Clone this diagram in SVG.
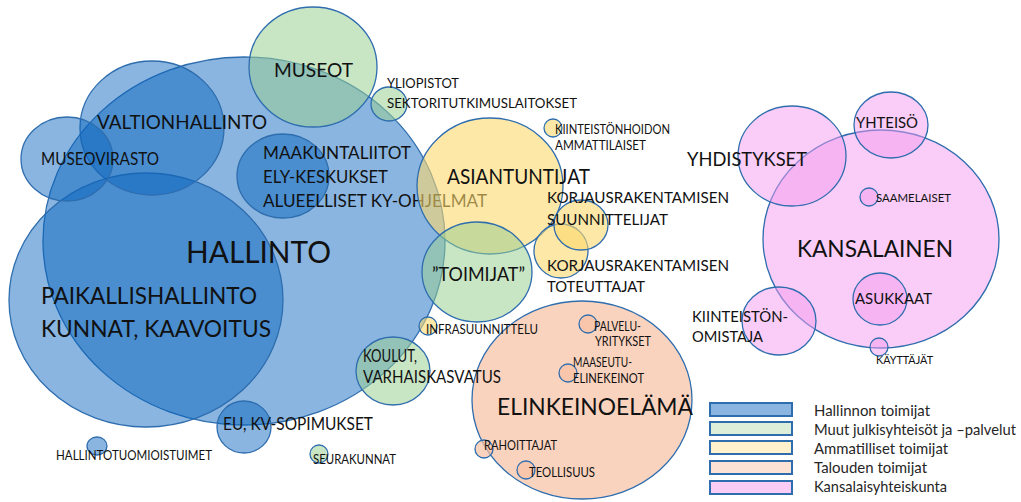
<svg xmlns="http://www.w3.org/2000/svg" width="1021" height="502" viewBox="0 0 1021 502">
<style>
text{font-family:Lato,"Open Sans","Liberation Sans",sans-serif;fill:#111;}
.b{fill:rgb(5,97,190);fill-opacity:0.47;stroke:#2E6DAE;stroke-width:1.3;}
.g{fill:rgb(153,207,146);fill-opacity:0.54;stroke:#2E6DAE;stroke-width:1.3;}
.y{fill:rgb(252,217,110);fill-opacity:0.6;stroke:#2E6DAE;stroke-width:1.3;}
.s{fill:rgb(248,192,162);fill-opacity:0.7;stroke:#2E6DAE;stroke-width:1.3;}
.p{fill:rgb(243,156,240);fill-opacity:0.5;stroke:#2E6DAE;stroke-width:1.3;}
.lg{stroke:#2E6DAE;stroke-width:2;}
.lt{fill:#262626;font-size:15px;}
</style>
<rect width="1021" height="502" fill="#fff"/>
<g id="connectors"></g>

<g id="node-elinkeinoelama">
<ellipse class="s" cx="582" cy="400" rx="110" ry="99"/>
<text x="497" y="415" font-size="24" textLength="196" lengthAdjust="spacingAndGlyphs">ELINKEINOELÄMÄ</text>
</g>

<g id="node-hallinto">
<ellipse class="b" cx="244" cy="241" rx="201" ry="184"/>
<g id="node-paikallishallinto">
<ellipse class="b" cx="146" cy="300" rx="137" ry="127"/>
<text x="41" y="304" font-size="24" textLength="216" lengthAdjust="spacingAndGlyphs">PAIKALLISHALLINTO</text>
<text x="41" y="337" font-size="24" textLength="230" lengthAdjust="spacingAndGlyphs">KUNNAT, KAAVOITUS</text>
</g>
<g id="node-valtionhallinto">
<ellipse class="b" cx="152" cy="128" rx="72" ry="67"/>
<g id="node-museovirasto">
<ellipse class="b" cx="67" cy="159" rx="46" ry="42"/>
<text x="41" y="165" font-size="16.5" textLength="118" lengthAdjust="spacingAndGlyphs">MUSEOVIRASTO</text>
</g>
<text x="97" y="129" font-size="20" textLength="170" lengthAdjust="spacingAndGlyphs">VALTIONHALLINTO</text>
</g>
<g id="node-maakuntaliitot">
<ellipse class="b" cx="283" cy="176" rx="46" ry="42"/>
<text x="263" y="159" font-size="18" textLength="148" lengthAdjust="spacingAndGlyphs">MAAKUNTALIITOT</text>
<text x="263" y="183" font-size="18" textLength="125" lengthAdjust="spacingAndGlyphs">ELY-KESKUKSET</text>
<text x="263" y="207" font-size="18" textLength="224" lengthAdjust="spacingAndGlyphs">ALUEELLISET KY-OHJELMAT</text>
</g>
<text x="186" y="263" font-size="31" textLength="145" lengthAdjust="spacingAndGlyphs">HALLINTO</text>
</g>

<g id="node-eu">
<ellipse class="b" cx="244" cy="427" rx="27" ry="26"/>
<text x="223" y="430" font-size="16.5" textLength="150" lengthAdjust="spacingAndGlyphs">EU, KV-SOPIMUKSET</text>
</g>
<g id="node-hallintotuomioistuimet">
<ellipse class="b" cx="97" cy="446" rx="10" ry="9"/>
<text x="56" y="460" font-size="13" textLength="156" lengthAdjust="spacingAndGlyphs">HALLINTOTUOMIOISTUIMET</text>
</g>

<g id="node-museot">
<ellipse class="g" cx="313" cy="67" rx="64" ry="60"/>
<text x="274" y="77" font-size="20" textLength="79" lengthAdjust="spacingAndGlyphs">MUSEOT</text>
</g>
<g id="node-yliopistot">
<ellipse class="g" cx="389" cy="104" rx="18" ry="17"/>
<text x="387" y="88" font-size="13.5" textLength="72" lengthAdjust="spacingAndGlyphs">YLIOPISTOT</text>
<text x="387" y="108" font-size="13.5" textLength="190" lengthAdjust="spacingAndGlyphs">SEKTORITUTKIMUSLAITOKSET</text>
</g>

<g id="node-asiantuntijat">
<ellipse class="y" cx="490" cy="186" rx="73" ry="68"/>
<text x="447" y="184" font-size="21" textLength="143" lengthAdjust="spacingAndGlyphs">ASIANTUNTIJAT</text>
</g>
<g id="node-kiinteistonhoidon">
<ellipse class="y" cx="553" cy="128" rx="9" ry="9"/>
<text x="555" y="134" font-size="12.5" textLength="115" lengthAdjust="spacingAndGlyphs">KIINTEISTÖNHOIDON</text>
<text x="555" y="150" font-size="12.5" textLength="91" lengthAdjust="spacingAndGlyphs">AMMATTILAISET</text>
</g>
<g id="node-korjaus-toteuttajat">
<ellipse class="y" cx="561" cy="251" rx="27" ry="27"/>
<text x="547" y="271" font-size="16" textLength="182" lengthAdjust="spacingAndGlyphs">KORJAUSRAKENTAMISEN</text>
<text x="547" y="292" font-size="16" textLength="98" lengthAdjust="spacingAndGlyphs">TOTEUTTAJAT</text>
</g>
<g id="node-korjaus-suunnittelijat">
<ellipse class="y" cx="581" cy="225" rx="27" ry="25"/>
<text x="547" y="203" font-size="16" textLength="182" lengthAdjust="spacingAndGlyphs">KORJAUSRAKENTAMISEN</text>
<text x="547" y="225" font-size="16" textLength="121" lengthAdjust="spacingAndGlyphs">SUUNNITTELIJAT</text>
</g>

<g id="node-toimijat">
<ellipse class="g" cx="477" cy="272" rx="55" ry="50"/>
<text x="432" y="281" font-size="20" textLength="93" lengthAdjust="spacingAndGlyphs">”TOIMIJAT”</text>
</g>
<g id="node-koulut">
<ellipse class="g" cx="393" cy="371" rx="37" ry="34"/>
<text x="363" y="362" font-size="16.5" textLength="54" lengthAdjust="spacingAndGlyphs">KOULUT,</text>
<text x="363" y="383" font-size="16.5" textLength="138" lengthAdjust="spacingAndGlyphs">VARHAISKASVATUS</text>
</g>
<g id="node-seurakunnat">
<ellipse class="g" cx="319" cy="454" rx="9" ry="9"/>
<text x="313" y="464" font-size="13" textLength="83" lengthAdjust="spacingAndGlyphs">SEURAKUNNAT</text>
</g>
<g id="node-infrasuunnittelu">
<ellipse class="y" cx="428" cy="326" rx="9" ry="9"/>
<text x="426" y="334" font-size="12.5" textLength="112" lengthAdjust="spacingAndGlyphs">INFRASUUNNITTELU</text>
</g>

<g id="node-palveluyritykset">
<ellipse class="s" cx="588" cy="324" rx="9" ry="9"/>
<text x="594" y="331" font-size="12.5" textLength="47" lengthAdjust="spacingAndGlyphs">PALVELU-</text>
<text x="595" y="346" font-size="12.5" textLength="56" lengthAdjust="spacingAndGlyphs">YRITYKSET</text>
</g>
<g id="node-maaseutuelinkeinot">
<ellipse class="s" cx="568" cy="373" rx="9" ry="9"/>
<text x="573" y="367" font-size="12.5" textLength="59" lengthAdjust="spacingAndGlyphs">MAASEUTU-</text>
<text x="573" y="383" font-size="12.5" textLength="71" lengthAdjust="spacingAndGlyphs">ELINEKEINOT</text>
</g>
<g id="node-rahoittajat">
<ellipse class="s" cx="484" cy="449" rx="9" ry="9"/>
<text x="484" y="450" font-size="12.5" textLength="73" lengthAdjust="spacingAndGlyphs">RAHOITTAJAT</text>
</g>
<g id="node-teollisuus">
<ellipse class="s" cx="526" cy="470" rx="9" ry="9"/>
<text x="529" y="477" font-size="12.5" textLength="66" lengthAdjust="spacingAndGlyphs">TEOLLISUUS</text>
</g>

<g id="node-kansalainen">
<ellipse class="p" cx="881" cy="239" rx="118" ry="109"/>
<text x="797" y="257" font-size="23" textLength="156" lengthAdjust="spacingAndGlyphs">KANSALAINEN</text>
</g>
<g id="node-yhdistykset">
<ellipse class="p" cx="792" cy="156" rx="54" ry="50"/>
<text x="687" y="166" font-size="20" textLength="120" lengthAdjust="spacingAndGlyphs">YHDISTYKSET</text>
</g>
<g id="node-yhteiso">
<ellipse class="p" cx="891" cy="125" rx="37" ry="33"/>
<text x="856" y="128" font-size="16" textLength="62" lengthAdjust="spacingAndGlyphs">YHTEISÖ</text>
</g>
<g id="node-saamelaiset">
<ellipse class="p" cx="869" cy="197" rx="9" ry="9"/>
<text x="876" y="202" font-size="11.5" textLength="75" lengthAdjust="spacingAndGlyphs">SAAMELAISET</text>
</g>
<g id="node-asukkaat">
<ellipse class="p" cx="880" cy="299" rx="27" ry="26"/>
<text x="855" y="304" font-size="16" textLength="77" lengthAdjust="spacingAndGlyphs">ASUKKAAT</text>
</g>
<g id="node-kiinteistonomistaja">
<ellipse class="p" cx="779" cy="321" rx="37" ry="34"/>
<text x="692" y="322" font-size="16" textLength="96" lengthAdjust="spacingAndGlyphs">KIINTEISTÖN-</text>
<text x="692" y="342" font-size="16" textLength="71" lengthAdjust="spacingAndGlyphs">OMISTAJA</text>
</g>
<g id="node-kayttajat">
<ellipse class="p" cx="879" cy="347" rx="9" ry="9"/>
<text x="876" y="364" font-size="11.5" textLength="57" lengthAdjust="spacingAndGlyphs">KÄYTTÄJÄT</text>
</g>

<g id="legend">
<rect class="lg" x="710" y="403" width="82" height="13" fill="#8AB5E0"/>
<rect class="lg" x="710" y="422" width="82" height="13" fill="#DDEED9"/>
<rect class="lg" x="710" y="441" width="82" height="13" fill="#FFF2CC"/>
<rect class="lg" x="710" y="461" width="82" height="13" fill="#FCE2D4"/>
<rect class="lg" x="710" y="481" width="82" height="13" fill="#F9CDF6"/>
<text class="lt" x="814" y="416" textLength="116" lengthAdjust="spacingAndGlyphs">Hallinnon toimijat</text>
<text class="lt" x="814" y="435" textLength="202" lengthAdjust="spacingAndGlyphs">Muut julkisyhteisöt ja –palvelut</text>
<text class="lt" x="814" y="454" textLength="134" lengthAdjust="spacingAndGlyphs">Ammatilliset toimijat</text>
<text class="lt" x="814" y="473" textLength="113" lengthAdjust="spacingAndGlyphs">Talouden toimijat</text>
<text class="lt" x="814" y="492" textLength="133" lengthAdjust="spacingAndGlyphs">Kansalaisyhteiskunta</text>
</g>
</svg>
